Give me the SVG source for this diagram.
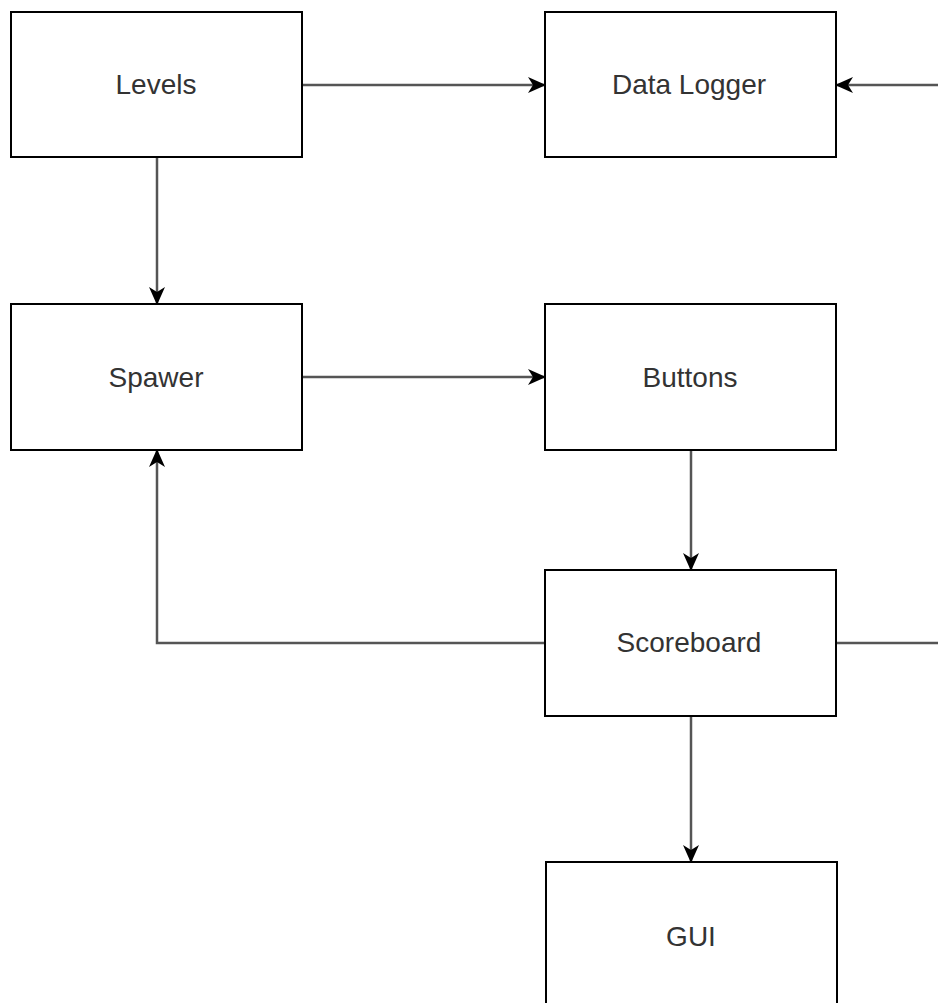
<svg xmlns="http://www.w3.org/2000/svg" width="938" height="1003" viewBox="0 0 938 1003">
<style>
.box{fill:#fff;stroke:#000;stroke-width:2}
.lbl{font-family:"Liberation Sans",Arial,sans-serif;font-size:28px;fill:#333;text-anchor:middle;dominant-baseline:central}
.edge{fill:none;stroke:#555;stroke-width:2.5}
</style>
<defs>
<marker id="arr" viewBox="0 0 18 16" refX="17" refY="8" markerWidth="18" markerHeight="16" markerUnits="userSpaceOnUse" orient="auto">
<path d="M0,0 L18,8 L0,16 L5,8 Z" fill="#000"/>
</marker>
</defs>
<rect width="938" height="1003" fill="#fff"/>
<g id="connectors">
<path class="edge" d="M302,85 H545" marker-end="url(#arr)"/>
<path class="edge" d="M938,85 H836" marker-end="url(#arr)"/>
<path class="edge" d="M157,157 V304" marker-end="url(#arr)"/>
<path class="edge" d="M302,377 H545" marker-end="url(#arr)"/>
<path class="edge" d="M691,450 V570" marker-end="url(#arr)"/>
<path class="edge" d="M545,643 H157 V450" marker-end="url(#arr)"/>
<path class="edge" d="M837,643 H938"/>
<path class="edge" d="M691,716 V862" marker-end="url(#arr)"/>
</g>
<g id="levels"><rect class="box" x="11" y="12" width="291" height="145"/><text class="lbl" x="156" y="84">Levels</text></g>
<g id="datalogger"><rect class="box" x="545" y="12" width="291" height="145"/><text class="lbl" x="689" y="84">Data Logger</text></g>
<g id="spawer"><rect class="box" x="11" y="304" width="291" height="146"/><text class="lbl" x="156" y="377">Spawer</text></g>
<g id="buttons"><rect class="box" x="545" y="304" width="291" height="146"/><text class="lbl" x="690" y="377">Buttons</text></g>
<g id="scoreboard"><rect class="box" x="545" y="570" width="291" height="146"/><text class="lbl" x="689" y="642">Scoreboard</text></g>
<g id="gui"><rect class="box" x="546" y="862" width="291" height="160"/><text class="lbl" x="691" y="936">GUI</text></g>
</svg>
